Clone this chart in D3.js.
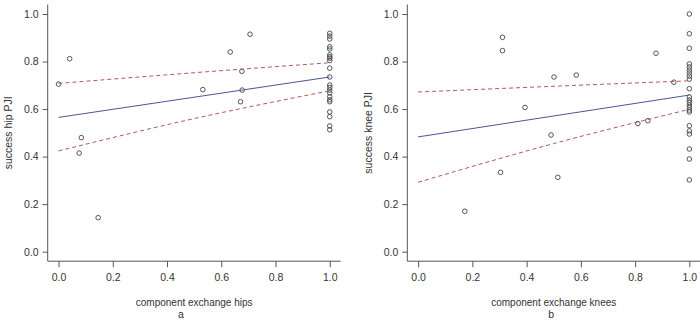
<!DOCTYPE html>
<html>
<head>
<meta charset="utf-8">
<script src="https://cdn.jsdelivr.net/npm/d3@7"></script>
<style>
  body { margin: 0; background: #fff; }
  svg { display: block; font-family: "Liberation Sans", Arial, sans-serif; }
</style>
</head>
<body>
<div id="chart"></div>
<script>
const width = 700, height = 321;

// hips panel
const hipX = [0, 0.041, 0.084, 0.076, 0.146, 0.532, 0.633, 0.706, 0.676, 0.677, 0.671,
  1, 1, 1, 1, 1, 1, 1, 1, 1, 1, 1, 1, 1, 1, 1, 1, 1, 1, 1, 1, 1, 1];
const hipY = [0.705, 0.812, 0.48, 0.415, 0.143, 0.682, 0.84, 0.915, 0.759, 0.68, 0.631,
  0.919, 0.907, 0.895, 0.862, 0.853, 0.828, 0.82, 0.814, 0.804, 0.772, 0.735,
  0.701, 0.691, 0.68, 0.668, 0.652, 0.639, 0.631, 0.588, 0.568, 0.529, 0.513];
const hipFit = [[0, 0.565], [1, 0.735]];
const hipUpper = [[0, 0.708], [0.5, 0.753], [1, 0.795]];
const hipLower = [[0, 0.424], [0.5, 0.56], [1, 0.677]];

// knees panel
const kneeX = [0.311, 0.311, 0.394, 0.501, 0.583, 0.49, 0.877, 0.943, 0.81, 0.847,
  0.172, 0.304, 0.515,
  1, 1, 1, 1, 1, 1, 1, 1, 1, 1, 1, 1, 1, 1, 1, 1, 1, 1, 1, 1, 1, 1, 1];
const kneeY = [0.902, 0.846, 0.607, 0.735, 0.743, 0.491, 0.835, 0.713, 0.539, 0.551,
  0.17, 0.334, 0.313,
  1.0, 0.917, 0.856, 0.79, 0.777, 0.764, 0.752, 0.739, 0.726, 0.686, 0.651, 0.638,
  0.628, 0.617, 0.607, 0.596, 0.588, 0.53, 0.508, 0.495, 0.432, 0.39, 0.302];
const kneeFit = [[0, 0.483], [1, 0.659]];
const kneeUpper = [[0, 0.672], [0.5, 0.696], [1, 0.719]];
const kneeLower = [[0, 0.292], [0.5, 0.455], [1, 0.599]];

const ticks = [0, 0.2, 0.4, 0.6, 0.8, 1.0];

const svg = d3.select("#chart").append("svg")
  .attr("width", width).attr("height", height);

const panels = [
  {dx: 0, tagX: 181, xs: hipX, ys: hipY, fit: hipFit, up: hipUpper, lo: hipLower,
   xlab: "component exchange hips", ylab: "success hip PJI", tag: "a"},
  {dx: 359.6, tagX: 191.5, xs: kneeX, ys: kneeY, fit: kneeFit, up: kneeUpper, lo: kneeLower,
   xlab: "component exchange knees", ylab: "success knee PJI", tag: "b"}
];

const x = d3.scaleLinear().domain([-0.04, 1.04]).range([47.7, 340.6]);
const y = d3.scaleLinear().domain([-0.04, 1.04]).range([261.2, 4.5]);
const line = d3.line().x(d => x(d[0])).y(d => y(d[1])).curve(d3.curveMonotoneX);
const axisCol = "#555";

panels.forEach(p => {
  const g = svg.append("g").attr("transform", `translate(${p.dx},0)`);

  // L-shaped frame
  g.append("path")
    .attr("d", `M${x.range()[0]},${y.range()[1]}V${y.range()[0]}H${x.range()[1]}`)
    .attr("fill", "none").attr("stroke", axisCol).attr("stroke-width", 1);

  const xAxis = g.append("g").attr("transform", `translate(0,${y.range()[0]})`)
    .call(d3.axisBottom(x).tickValues(ticks).tickSize(6).tickPadding(6).tickFormat(d3.format(".1f")));
  const yAxis = g.append("g").attr("transform", `translate(${x.range()[0]},0)`)
    .call(d3.axisLeft(y).tickValues(ticks).tickSize(5).tickPadding(4).tickFormat(d3.format(".1f")));
  [xAxis, yAxis].forEach(a => {
    a.select(".domain").remove();
    a.selectAll("line").attr("stroke", axisCol);
    a.selectAll("text").attr("fill", "#333").style("font-size", "10.5px")
      .style("font-family", "Liberation Sans, Arial, sans-serif");
  });

  // points
  g.append("g").selectAll("circle")
    .data(p.xs.map((v, i) => [v, p.ys[i]]))
    .join("circle")
    .attr("cx", d => x(d[0])).attr("cy", d => y(d[1])).attr("r", 2.3)
    .attr("fill", "none").attr("stroke", "#444").attr("stroke-width", 0.9);

  // regression line and confidence band
  g.append("path").datum(p.fit).attr("d", line)
    .attr("fill", "none").attr("stroke", "#52529a").attr("stroke-width", 1);
  [p.up, p.lo].forEach(b => {
    g.append("path").datum(b).attr("d", line)
      .attr("fill", "none").attr("stroke", "#b25a5a").attr("stroke-width", 1)
      .attr("stroke-dasharray", "4,3");
  });

  const cx = (x.range()[0] + x.range()[1]) / 2;
  g.append("text").attr("x", cx).attr("y", 306).attr("text-anchor", "middle")
    .attr("fill", "#333").style("font-size", "10px").text(p.xlab);
  g.append("text").attr("x", p.tagX).attr("y", 318).attr("text-anchor", "middle")
    .attr("fill", "#333").style("font-size", "10.5px").text(p.tag);
  g.append("text").attr("transform", `translate(12,${(y.range()[0] + y.range()[1]) / 2}) rotate(-90)`)
    .attr("text-anchor", "middle").attr("fill", "#333").style("font-size", "10.5px").text(p.ylab);
});
</script>
</body>
</html>
